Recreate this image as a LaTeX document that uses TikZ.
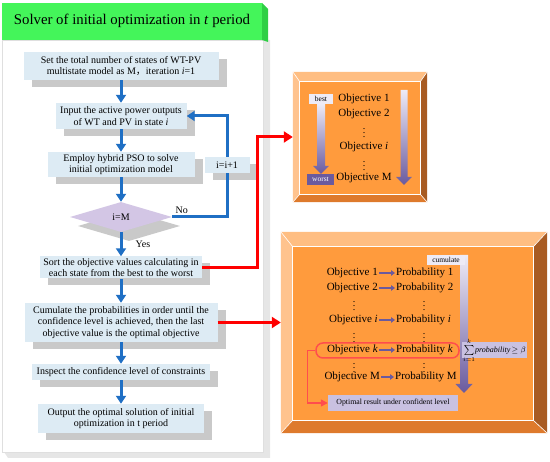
\documentclass[tikz,border=0pt]{standalone}
\usepackage{fontspec}
\setmainfont{Liberation Serif}
\newfontfamily\cjk{Noto Sans CJK SC}
\usetikzlibrary{arrows.meta,shapes.geometric,shadows,calc}

\definecolor{titlegreen}{HTML}{44F55A}
\definecolor{titleside}{HTML}{2FCF45}
\definecolor{boxblue}{HTML}{DDEBF4}
\definecolor{flowblue}{HTML}{1F6FC4}
\definecolor{boxshade}{HTML}{C9C9C9}
\definecolor{panelgray}{HTML}{E6E6E6}
\definecolor{decide}{HTML}{D3C6E5}
\definecolor{orangeface}{HTML}{FF9B3D}
\definecolor{bevtop}{HTML}{FFBE82}
\definecolor{bevleft}{HTML}{FFC38E}
\definecolor{bevright}{HTML}{A85B22}
\definecolor{bevbot}{HTML}{DE7A2C}
\definecolor{lavender}{HTML}{C9C1E1}
\definecolor{palelav}{HTML}{EEEBF6}
\definecolor{deeppurple}{HTML}{6A5A9E}
\definecolor{ringred}{HTML}{FF4D4D}

\newcommand\flowfont{\fontsize{10}{11.6}\selectfont}
\newcommand\objfont{\fontsize{11}{12}\selectfont}
\newcommand\tagfont{\fontsize{7.5}{8}\selectfont}

% shaded arrow: x, top, tip, shaft width, head width, head length
\newcommand\gradarrow[6]{%
  \shade[top color=palelav, bottom color=deeppurple]
    (#1-#4/2,#2) -- (#1+#4/2,#2) -- (#1+#4/2,#3-#6) -- (#1+#5/2,#3-#6)
    -- (#1,#3) -- (#1-#5/2,#3-#6) -- (#1-#4/2,#3-#6) -- cycle;}

% bevelled orange frame round a node: node, left, top, right, bottom
\newcommand\bevelbox[5]{%
  \coordinate (#1-a) at ($(#1.north west)+(#2,#3)$);
  \coordinate (#1-b) at ($(#1.north east)+(-#4,#3)$);
  \coordinate (#1-c) at ($(#1.south east)+(-#4,-#5)$);
  \coordinate (#1-d) at ($(#1.south west)+(#2,-#5)$);
  \fill[bevtop] (#1.north west) -- (#1.north east) -- (#1-b) -- (#1-a) -- cycle;
  \fill[bevleft] (#1.north west) -- (#1-a) -- (#1-d) -- (#1.south west) -- cycle;
  \fill[bevright] (#1.north east) -- (#1.south east) -- (#1-c) -- (#1-b) -- cycle;
  \fill[bevbot] (#1.south west) -- (#1-d) -- (#1-c) -- (#1.south east) -- cycle;
  \filldraw[fill=orangeface, draw=white, line width=0.8pt] (#1-a) rectangle (#1-c);
  \draw[white, line width=0.6pt] (#1.north west) -- (#1-a) (#1.north east) -- (#1-b)
    (#1.south east) -- (#1-c) (#1.south west) -- (#1-d);}

\tikzset{
  flowbox/.style={fill=boxblue, align=center, inner sep=0pt, font=\flowfont,
    copy shadow={shadow xshift=8pt, shadow yshift=-7pt, fill=boxshade, draw=none}},
  decision/.style={diamond, fill=decide, minimum width=102pt, minimum height=30pt,
    inner sep=0pt, font=\flowfont,
    copy shadow={shadow xshift=8pt, shadow yshift=-9pt, fill=boxshade, draw=none}},
  flowline/.style={draw=flowblue, line width=3pt},
  flowarrow/.style={flowline, -{Triangle[length=8pt,width=10pt]}},
  redarrow/.style={draw=red, line width=3pt, -{Triangle[length=9pt,width=11pt]}},
  pairarrow/.style={draw=deeppurple, line width=2pt, -{Triangle[length=4pt,width=5.5pt]}},
  ringline/.style={draw=ringred, line width=1.5pt, -{Triangle[length=7pt,width=7pt]}},
  objtext/.style={font=\objfont, inner sep=1pt},
  dotsmark/.style={font=\fontsize{10}{10}\selectfont, inner sep=0pt},
  tag/.style={font=\tagfont, inner sep=0pt},
}

\begin{document}
\begin{tikzpicture}[x=1pt, y=-1pt]
  \useasboundingbox (0,0) rectangle (550,462);

  % left panel
  \fill[panelgray] (263,40) -- (270,40) -- (270,458) -- (8,458) -- (4,452) -- (263,452) -- cycle;
  \filldraw[fill=white, draw=gray!25] (2,40) rectangle (263,452);
  \fill[titlegreen] (2,3) rectangle (262,40);
  \fill[titleside] (262,3) -- (268,9) -- (268,42) -- (262,40) -- cycle;
  \node[font=\fontsize{14.8}{15}\selectfont] (title) at (132,21)
    {Solver of initial optimization in \textit{t} period};

  % flow chart
  \node[flowbox, minimum width=195pt, minimum height=28pt] (setup) at (121,66)
    {Set the total number of states of WT-PV\\multistate model as M{\cjk ，}iteration \textit{i}=1};
  \node[flowbox, minimum width=131pt, minimum height=26pt] (input) at (121,116)
    {Input the active power outputs\\of WT and PV in state \textit{i}};
  \node[flowbox, minimum width=147pt, minimum height=25pt] (solve) at (121,164.5)
    {Employ hybrid PSO to solve\\initial optimization model};
  \node[decision] (check) at (121,217) {i=M};
  \node[flowbox, minimum width=162pt, minimum height=22pt] (sortobj) at (121,267.5)
    {Sort the objective values calculating in\\each state from the best to the worst};
  \node[flowbox, minimum width=193pt, minimum height=39pt] (cumul) at (121,322.5)
    {Cumulate the probabilities in order until the\\confidence level is achieved, then the last\\objective value is the optimal objective};
  \node[flowbox, minimum width=178pt, minimum height=16pt] (inspect) at (121,372)
    {Inspect the confidence level of constraints};
  \node[flowbox, minimum width=166pt, minimum height=29pt] (output) at (121,418.5)
    {Output the optimal solution of initial\\optimization in t period};
  \node[flowbox, minimum width=45pt, minimum height=16pt] (incr) at (227,165) {i=i+1};

  \draw[flowarrow] (setup) -- (input);
  \draw[flowarrow] (input) -- (solve);
  \draw[flowarrow] (solve) -- (check);
  \draw[flowarrow] (check) -- (sortobj);
  \draw[flowarrow] (sortobj) -- (cumul);
  \draw[flowarrow] (cumul) -- (inspect);
  \draw[flowarrow] (inspect) -- (output);
  \draw[flowline] (check.east) -| (incr.south);
  \draw[flowarrow] (incr.north) |- (input.east);
  \node[font=\flowfont, anchor=south west] (nolab) at (check.east) {No};
  \node[font=\flowfont] (yeslab) at (143,244) {Yes};

  % ranking frame
  \node[minimum width=134pt, minimum height=130pt, inner sep=0pt] (rank) at (360,137) {};
  \bevelbox{rank}{7}{10}{7}{8}
  \gradarrow{321}{104}{174}{8}{16}{8}
  \gradarrow{404}{90}{185}{7}{16}{8}
  \node[tag, fill=palelav, minimum width=24pt, minimum height=10pt] (best) at (321,99) {best};
  \node[tag, fill=deeppurple, text=white, minimum width=27pt, minimum height=11pt] (worst) at (320.5,179.5) {worst};
  \node[objtext] (rank1) at (364,99) {Objective 1};
  \node[objtext] (rank2) at (364,114) {Objective 2};
  \node[dotsmark] (rankdots1) at (364,130) {$\vdots$};
  \node[objtext] (ranki) at (364,147) {Objective \textit{i}};
  \node[dotsmark] (rankdots2) at (364,163) {$\vdots$};
  \node[objtext] (rankM) at (364,178) {Objective M};

  % cumulating frame
  \node[minimum width=266pt, minimum height=201pt, inner sep=0pt] (cumbox) at (414,332.5) {};
  \bevelbox{cumbox}{12}{15}{14}{13}
  \gradarrow{464}{255}{393}{8}{17}{9}
  \node[tag, fill=palelav, minimum width=38pt, minimum height=10pt] (cumtag) at (446,260) {cumulate};

  \node[objtext, anchor=east] (obj1) at (379,273) {Objective 1};
  \node[objtext, anchor=west] (prob1) at (395,273) {Probability 1};
  \node[objtext, anchor=east] (obj2) at (379,288) {Objective 2};
  \node[objtext, anchor=west] (prob2) at (395,288) {Probability 2};
  \node[objtext, anchor=east] (obji) at (379,320) {Objective \textit{i}};
  \node[objtext, anchor=west] (probi) at (395,320) {Probability \textit{i}};
  \node[objtext, anchor=east] (objk) at (379,350) {Objective \textit{k}};
  \node[objtext, anchor=west] (probk) at (395,350) {Probability \textit{k}};
  \node[objtext, anchor=east] (objM) at (381,377) {Objective M};
  \node[objtext, anchor=west] (probM) at (394,377) {Probability M};
  \draw[pairarrow] (obj1) -- (prob1);
  \draw[pairarrow] (obj2) -- (prob2);
  \draw[pairarrow] (obji) -- (probi);
  \draw[pairarrow] (objk) -- (probk);
  \draw[pairarrow] (objM) -- (probM);
  \node[dotsmark] (objdots1) at (354,303) {$\vdots$};
  \node[dotsmark] (probdots1) at (424,303) {$\vdots$};
  \node[dotsmark] (objdots2) at (354,335) {$\vdots$};
  \node[dotsmark] (probdots2) at (424,335) {$\vdots$};
  \node[dotsmark] (objdots3) at (354,365) {$\vdots$};
  \node[dotsmark] (probdots3) at (424,365) {$\vdots$};

  \node[draw=ringred, line width=1.5pt, rounded corners=7pt, minimum width=143pt,
    minimum height=15pt, inner sep=0pt] (kring) at (387.5,350.5) {};
  \node[fill=lavender, minimum width=65pt, minimum height=16pt, inner sep=0pt] (sumbox) at (494.5,350) {};
  \node[font=\fontsize{8}{9}\selectfont, inner sep=0pt] (sumtext) at (sumbox)
    {$\sum\limits_{i=1}^{k}$\textit{probability}$\,\geq\beta$};
  \node[tag, fill=lavender, font=\fontsize{7.8}{8}\selectfont, minimum width=130pt,
    minimum height=16pt] (optres) at (393,403) {Optimal result under confident level};
  \draw[ringline] (kring.west) -- ++(-8,0) |- (optres.west);

  % links to the frames
  \draw[redarrow] (sortobj.east) -- ++(55,0) |- (rank.west);
  \draw[redarrow] (cumul.east) -- (cumul.east -| cumbox.west);
\end{tikzpicture}
\end{document}
